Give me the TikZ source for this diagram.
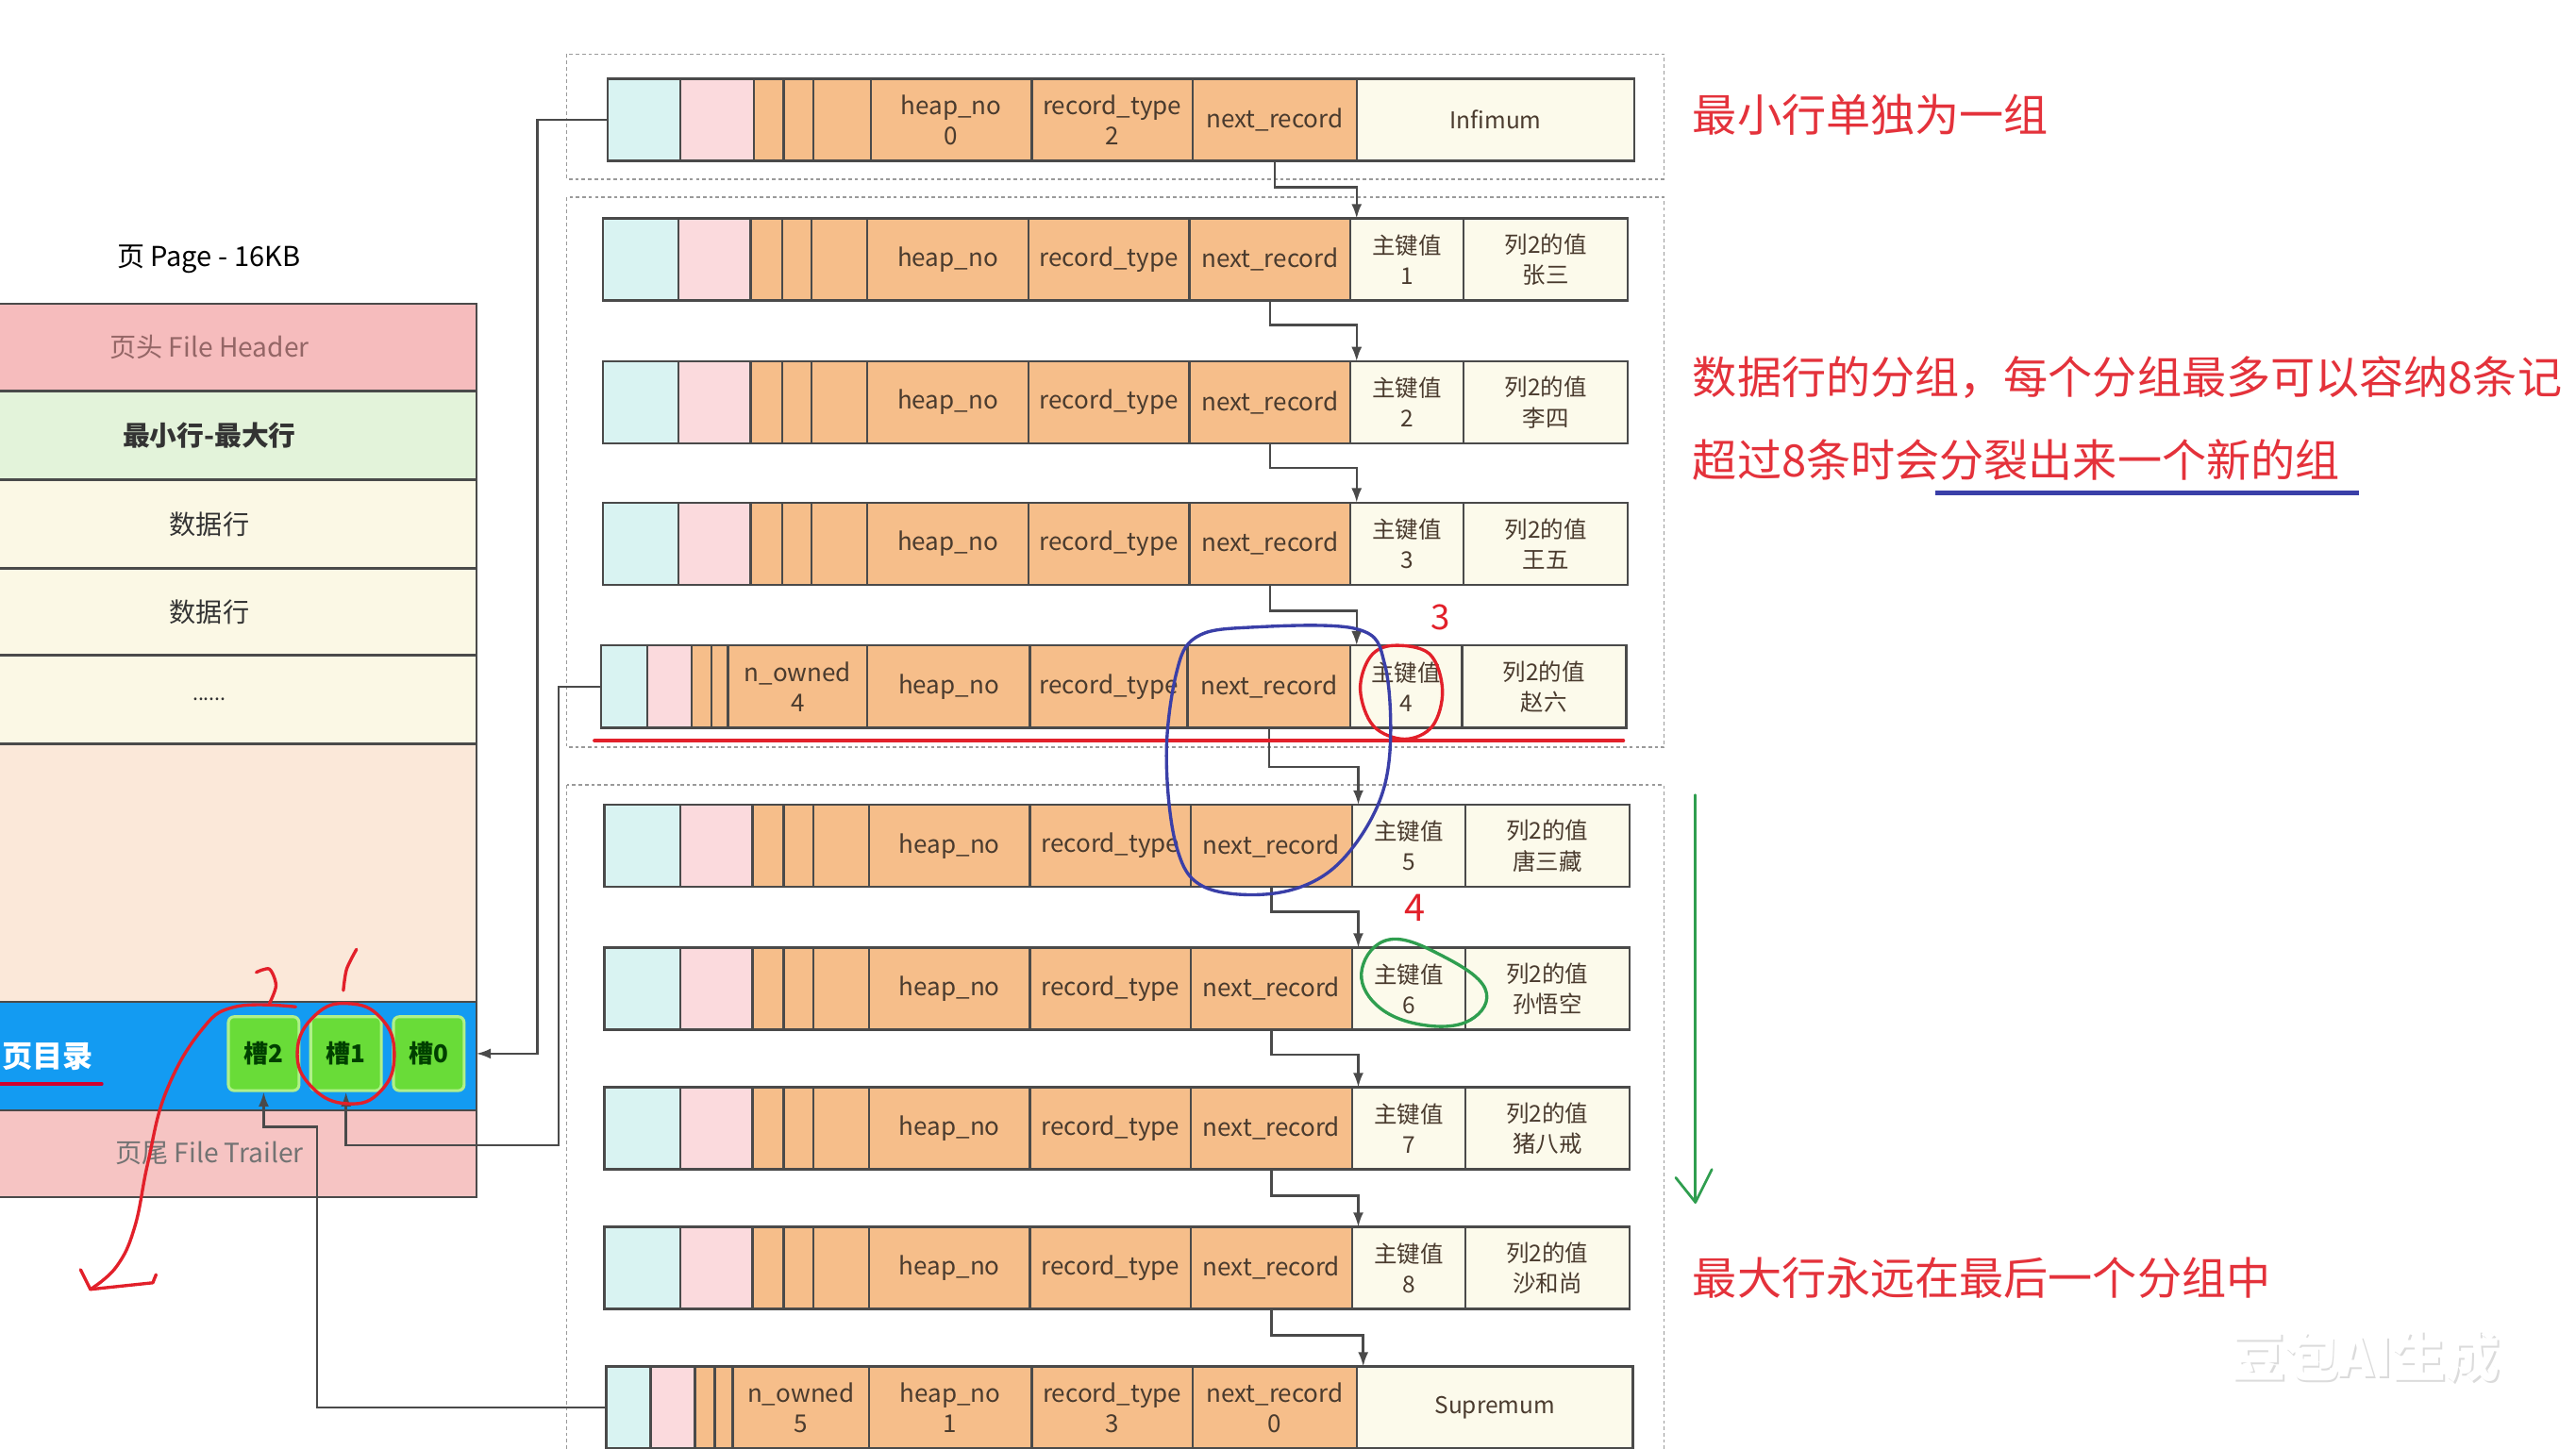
\documentclass[tikz,border=0pt]{standalone}
\usepackage{fontspec}
\setmainfont{Noto Sans CJK SC}
\usepackage{tikz}
\usetikzlibrary{arrows.meta, positioning}

\definecolor{cyanc}{HTML}{D9F3F2}
\definecolor{pinkc}{HTML}{FBDADD}
\definecolor{orac}{HTML}{F6BE8A}
\definecolor{creamc}{HTML}{FCFAEB}
\definecolor{hdrc}{HTML}{F6BCBD}
\definecolor{trlc}{HTML}{F6C4C3}
\definecolor{greenrow}{HTML}{E3F3DA}
\definecolor{datac}{HTML}{FBF8E5}
\definecolor{freec}{HTML}{FBE8D9}
\definecolor{dirc}{HTML}{139BF2}
\definecolor{slotc}{HTML}{69DC38}
\definecolor{slotedge}{HTML}{B0F08A}
\definecolor{linec}{HTML}{4A4A4A}
\definecolor{textc}{HTML}{4A3B2E}
\definecolor{notered}{HTML}{E4323B}
\definecolor{penred}{HTML}{E2202A}
\definecolor{penblue}{HTML}{3A3FA8}
\definecolor{pengreen}{HTML}{2F9E4F}
\definecolor{groupc}{HTML}{9A9A9A}

\begin{document}
\begin{tikzpicture}[
    x=0.02cm, y=-0.02cm,
    cell/.style={draw=linec, line width=0.8pt, minimum height=1cm, inner sep=0pt, outer sep=0pt,
      text=textc, font=\fontsize{8.5}{10.5}\selectfont, align=center},
    pkcell/.style={cell, fill=creamc, font=\fontsize{8}{10.5}\selectfont},
    pagebox/.style={draw=linec, line width=0.8pt, minimum width=6.5cm, inner sep=0pt, outer sep=0pt,
      text=black!80, font=\fontsize{9.2}{11}\selectfont},
    slot/.style={draw=slotedge, line width=1pt, fill=slotc, rounded corners=2pt, minimum width=0.86cm,
      minimum height=0.9cm, inner sep=0pt, text=green!25!black, font=\bfseries\fontsize{8.5}{10}\selectfont},
    ptr/.style={draw=linec, line width=0.8pt, -{Latex[length=5pt,width=3.6pt]}},
    group/.style={draw=groupc, line width=0.5pt, dash pattern=on 1.2pt off 1pt},
    note/.style={text=notered, font=\fontsize{15.4}{18}\selectfont, inner sep=0pt, anchor=west},
    pen/.style={draw=penred, line width=1.1pt, line cap=round, line join=round}
  ]
  \useasboundingbox (0,0) rectangle (1568,882);
  \fill[white] (0,0) rectangle (1568,882);
  \clip (0,0) rectangle (1568,882);

  % page
  \node[font=\fontsize{9.5}{11}\selectfont] (ttl) at (127,158) {页 Page - 16KB};
  \node[pagebox, anchor=north west, fill=hdrc, minimum height=1.06cm, text=red!30!black!60] (hdr) at (-35,185) {页头 File Header};
  \node[pagebox, below=0pt of hdr, fill=greenrow, minimum height=1.08cm, font=\bfseries\fontsize{9.4}{11}\selectfont] (minmax) {最小行-最大行};
  \node[pagebox, below=0pt of minmax, fill=datac, minimum height=1.08cm] (data1) {数据行};
  \node[pagebox, below=0pt of data1, fill=datac, minimum height=1.06cm] (data2) {数据行};
  \node[pagebox, below=0pt of data2, fill=datac, minimum height=1.08cm, font=\fontsize{7}{8}\selectfont] (dots) {......};
  \node[pagebox, below=0pt of dots, fill=freec, minimum height=3.14cm] (free) {};
  \node[pagebox, below=0pt of free, fill=dirc, minimum height=1.32cm] (dir) {};
  \node[pagebox, below=0pt of dir, fill=trlc, minimum height=1.06cm, text=black!55] (trl) {页尾 File Trailer};
  \node[anchor=west, inner sep=0pt, text=white, font=\bfseries\fontsize{10.5}{12}\selectfont] (dirlbl) at (1,643) {页目录};
  \node[slot] (s2) at (160.5,641.5) {槽2};
  \node[slot] (s1) at (210.6,641.5) {槽1};
  \node[slot] (s0) at (261,641.5) {槽0};

  % groups
  \draw[group] (345,33) rectangle (1013,109);
  \draw[group] (345,120) rectangle (1013,455);
  \draw[group] (345,478) rectangle (1013,895);

  % infimum
  \node[cell, anchor=north west, fill=cyanc, minimum width=0.88cm] (r0) at (370,48) {};
  \node[cell, right=0pt of r0, fill=pinkc, minimum width=0.9cm] (p0) {};
  \node[cell, right=0pt of p0, fill=orac, minimum width=0.36cm] (oa0) {};
  \node[cell, right=0pt of oa0, fill=orac, minimum width=0.36cm] (ob0) {};
  \node[cell, right=0pt of ob0, fill=orac, minimum width=0.7cm] (oc0) {};
  \node[cell, right=0pt of oc0, fill=orac, minimum width=1.96cm] (h0) {heap\_no\\0};
  \node[cell, right=0pt of h0, fill=orac, minimum width=1.96cm] (t0) {record\_type\\2};
  \node[cell, right=0pt of t0, fill=orac, minimum width=2cm] (n0) {next\_record};
  \node[pkcell, right=0pt of n0, minimum width=3.38cm] (k0) {Infimum};

  % user records
  \foreach \i/\x/\y/\v/\w in {1/367/133/1/张三, 2/367/220/2/李四, 3/367/306/3/王五,
      5/368/490/5/唐三藏, 6/368/577/6/孙悟空, 7/368/662/7/猪八戒, 8/368/747/8/沙和尚} {
    \node[cell, anchor=north west, fill=cyanc, minimum width=0.92cm] (r\i) at (\x,\y) {};
    \node[cell, right=0pt of r\i, fill=pinkc, minimum width=0.88cm] (p\i) {};
    \node[cell, right=0pt of p\i, fill=orac, minimum width=0.38cm] (oa\i) {};
    \node[cell, right=0pt of oa\i, fill=orac, minimum width=0.36cm] (ob\i) {};
    \node[cell, right=0pt of ob\i, fill=orac, minimum width=0.68cm] (oc\i) {};
    \node[cell, right=0pt of oc\i, fill=orac, minimum width=1.96cm] (h\i) {heap\_no};
    \node[cell, right=0pt of h\i, fill=orac, minimum width=1.96cm] (t\i) {record\_type};
    \node[cell, right=0pt of t\i, fill=orac, minimum width=1.96cm] (n\i) {next\_record};
    \node[pkcell, right=0pt of n\i, minimum width=1.38cm] (k\i) {主键值\\\v};
    \node[pkcell, right=0pt of k\i, minimum width=2cm] (v\i) {列2的值\\\w};
  }

  % group owner
  \node[cell, anchor=north west, fill=cyanc, minimum width=0.56cm] (r4) at (366,393) {};
  \node[cell, right=0pt of r4, fill=pinkc, minimum width=0.54cm] (p4) {};
  \node[cell, right=0pt of p4, fill=orac, minimum width=0.24cm] (oa4) {};
  \node[cell, right=0pt of oa4, fill=orac, minimum width=0.2cm] (ob4) {};
  \node[cell, right=0pt of ob4, fill=orac, minimum width=1.7cm] (oc4) {n\_owned\\4};
  \node[cell, right=0pt of oc4, fill=orac, minimum width=1.98cm] (h4) {heap\_no};
  \node[cell, right=0pt of h4, fill=orac, minimum width=1.92cm] (t4) {record\_type};
  \node[cell, right=0pt of t4, fill=orac, minimum width=1.98cm] (n4) {next\_record};
  \node[pkcell, right=0pt of n4, minimum width=1.36cm] (k4) {主键值\\4};
  \node[pkcell, right=0pt of k4, minimum width=2cm] (v4) {列2的值\\赵六};

  % supremum
  \node[cell, anchor=north west, fill=cyanc, minimum width=0.54cm] (r9) at (369,832) {};
  \node[cell, right=0pt of r9, fill=pinkc, minimum width=0.54cm] (p9) {};
  \node[cell, right=0pt of p9, fill=orac, minimum width=0.24cm] (oa9) {};
  \node[cell, right=0pt of oa9, fill=orac, minimum width=0.22cm] (ob9) {};
  \node[cell, right=0pt of ob9, fill=orac, minimum width=1.66cm] (oc9) {n\_owned\\5};
  \node[cell, right=0pt of oc9, fill=orac, minimum width=1.98cm] (h9) {heap\_no\\1};
  \node[cell, right=0pt of h9, fill=orac, minimum width=1.96cm] (t9) {record\_type\\3};
  \node[cell, right=0pt of t9, fill=orac, minimum width=2cm] (n9) {next\_record\\0};
  \node[pkcell, right=0pt of n9, minimum width=3.36cm] (k9) {Supremum};

  % next_record chain
  \foreach \a/\b/\d in {0/1/16, 1/2/15, 2/3/15, 3/4/16, 4/5/24, 5/6/15, 6/7/15, 7/8/16, 8/9/16}
    \draw[ptr] (n\a.south) -- ++(0,\d) -| ([xshift=2.2pt]k\b.north west);

  % slots
  \draw[ptr] (r0.west) -- ++(-43,0) |- (dir.east |- s0.east);
  \draw[ptr] (r4.west) -- ++(-26,0) |- ([yshift=-18.5pt]s1.south) -- (s1.south);
  \draw[ptr] (r9.west) -- ++(-176,0) |- ([yshift=-12pt]s2.south) -- (s2.south);

  % notes
  \node[note] (note1) at (1030,70) {最小行单独为一组};
  \node[note] (note2) at (1030,230) {数据行的分组，每个分组最多可以容纳8条记};
  \node[note] (note3) at (1030,280) {超过8条时会分裂出来一个新的组};
  \node[note] (note4) at (1030,778) {最大行永远在最后一个分组中};
  \draw[draw=penblue, line width=1.6pt] (1178,300) -- (1436,300);

  % hand marks
  \draw[pen] plot[smooth, tension=0.7] coordinates {(180,613) (143,613) (122,628) (101,665) (90,708) (82,747) (71,771) (55,785)};
  \draw[pen] (49,773) -- (55,785) -- (93,781) -- (95,776);
  \draw[pen] plot[smooth] coordinates {(156,592) (164,590) (168,600) (164,611)};
  \draw[pen] plot[smooth] coordinates {(217,578) (211,590) (209,603)};
  \draw[pen] plot[smooth cycle, tension=0.8] coordinates {(212,611) (232,620) (240,642) (232,664) (212,672) (190,662) (181,640) (192,618)};
  \draw[pen, draw=purple!70!red] (0,660) -- (62,660);
  \node[text=penred, font=\fontsize{12}{12}\selectfont] (mk3) at (877,376) {3};
  \draw[pen] plot[smooth cycle, tension=0.6] coordinates {(848,393) (870,398) (878,420) (872,442) (855,450) (836,442) (828,420) (834,400)};
  \draw[pen, line width=1.4pt] (362,451) -- (988,451);
  \draw[pen, draw=penblue] plot[smooth cycle, tension=0.6] coordinates {(826,383) (760,382) (728,388) (716,410) (710,460) (716,515) (733,540) (775,544) (810,530) (836,496) (846,458) (843,405)};
  \node[text=penred, font=\fontsize{13}{13}\selectfont] (mk4) at (861,553) {4};
  \draw[pen, draw=pengreen] plot[smooth cycle, tension=0.7] coordinates {(846,572) (878,582) (904,602) (895,621) (866,624) (838,612) (829,590)};
  \draw[pen, draw=pengreen, line width=0.9pt] (1032,484) -- (1032,732);
  \draw[pen, draw=pengreen, line width=0.9pt] (1020,717) -- (1032,732) -- (1042,712);

  % watermark
  \node[text=black!14, font=\bfseries\fontsize{18.5}{20}\selectfont] (wmshadow) at (1441,827) {豆包AI生成};
  \node[text=white, font=\bfseries\fontsize{18.5}{20}\selectfont] (wm) at (1440,826) {豆包AI生成};
\end{tikzpicture}
\end{document}
